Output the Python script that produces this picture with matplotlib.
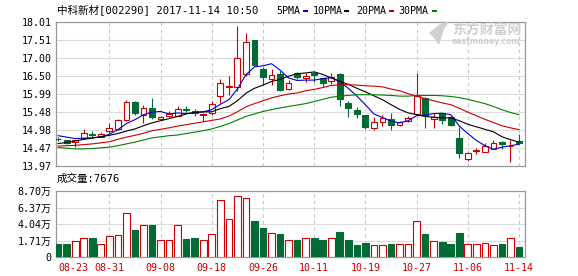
import numpy as np
import matplotlib
matplotlib.use("Agg")
import matplotlib.pyplot as plt
from matplotlib.patches import Rectangle, Polygon

plt.rcParams["font.family"] = ["DejaVu Sans Mono", "Noto Sans CJK SC"]
plt.rcParams["font.size"] = 7.2

UP = "#cc0000"
DOWN = "#006b35"
GRID = "#dcdcdc"
FRAME = "#9a9a9a"
MARK = "#d0d0d0"

W, H = 578, 276

dates = ["08-23", "08-24", "08-25", "08-28", "08-29", "08-30", "08-31",
         "09-01", "09-04", "09-05", "09-06", "09-07", "09-08", "09-11",
         "09-12", "09-13", "09-14", "09-15", "09-18", "09-19", "09-20",
         "09-21", "09-22", "09-25", "09-26", "09-27", "09-28", "09-29",
         "10-09", "10-10", "10-11", "10-12", "10-13", "10-16", "10-17",
         "10-18", "10-19", "10-20", "10-23", "10-24", "10-25", "10-26",
         "10-27", "10-30", "10-31", "11-01", "11-02", "11-03", "11-06",
         "11-07", "11-08", "11-09", "11-10", "11-13", "11-14"]

opens = [14.73, 14.69, 14.64, 14.75, 14.85, 14.79, 14.96, 15.01, 15.26, 15.76,
         15.40, 15.61, 15.28, 15.37, 15.38, 15.57, 15.52, 15.41, 15.46, 15.93,
         16.20, 16.19, 16.55, 17.51, 16.68, 16.41, 16.55, 16.12, 16.57, 16.43,
         16.59, 16.43, 16.36, 16.55, 15.73, 15.54, 15.40, 15.05, 15.21, 15.28,
         15.12, 15.23, 15.43, 15.87, 15.28, 15.45, 15.35, 14.75, 14.16, 14.39,
         14.37, 14.46, 14.65, 14.52, 14.66]
closes = [14.72, 14.61, 14.69, 14.89, 14.84, 14.87, 15.03, 15.25, 15.76, 15.45,
          15.61, 15.35, 15.35, 15.43, 15.56, 15.55, 15.45, 15.43, 15.72, 16.29,
          16.22, 16.99, 17.44, 16.80, 16.46, 16.52, 16.10, 16.31, 16.46, 16.50,
          16.52, 16.29, 16.48, 15.84, 15.61, 15.43, 15.07, 15.21, 15.31, 15.12,
          15.21, 15.33, 15.93, 15.40, 15.35, 15.26, 15.12, 14.33, 14.33, 14.41,
          14.53, 14.62, 14.59, 14.54, 14.62]
highs = [14.77, 14.71, 14.71, 15.00, 14.95, 14.92, 15.17, 15.28, 15.82, 15.78,
         15.68, 15.89, 15.38, 15.50, 15.65, 15.65, 15.58, 15.46, 15.78, 16.40,
         16.49, 17.90, 17.69, 17.51, 16.75, 16.70, 16.63, 16.38, 16.62, 16.58,
         16.62, 16.45, 16.57, 16.57, 15.78, 15.62, 15.40, 15.35, 15.40, 15.47,
         15.24, 15.38, 16.59, 15.90, 15.45, 15.47, 15.38, 15.07, 14.35, 14.47,
         14.62, 14.70, 14.66, 14.70, 14.86]
lows = [14.66, 14.58, 14.51, 14.72, 14.79, 14.77, 14.90, 14.97, 15.24, 15.40,
        15.17, 15.29, 15.25, 15.33, 15.36, 15.47, 15.38, 15.22, 15.40, 15.73,
        15.96, 16.08, 16.50, 16.78, 16.24, 16.25, 16.08, 16.10, 16.40, 16.33,
        16.33, 16.20, 16.27, 15.64, 15.35, 15.32, 15.02, 14.98, 15.10, 14.98,
        15.10, 15.20, 15.40, 15.04, 15.05, 15.15, 15.10, 14.19, 14.12, 14.30,
        14.35, 14.44, 14.45, 14.09, 14.60]

# volume, in 万 shares
volumes = [1.68, 1.68, 2.08, 2.57, 2.44, 1.77, 2.74, 2.96, 5.74, 3.54,
           4.20, 4.20, 2.30, 2.21, 4.20, 2.34, 2.44, 2.30, 2.97, 7.51,
           4.95, 8.04, 7.73, 4.73, 3.76, 3.10, 2.97, 2.21, 2.30, 2.57,
           2.57, 2.30, 2.44, 3.23, 2.21, 1.55, 1.90, 1.55, 1.64, 1.77,
           1.77, 1.77, 4.73, 2.97, 2.08, 1.99, 1.77, 3.10, 1.77, 1.68,
           1.86, 1.64, 1.77, 2.57, 1.32]

ma5 = [14.82, 14.78, 14.74, 14.75, 14.76, 14.79, 14.86, 14.99, 15.16, 15.27,
       15.41, 15.48, 15.50, 15.43, 15.46, 15.44, 15.47, 15.49, 15.55, 15.70,
       15.83, 16.13, 16.53, 16.75, 16.78, 16.84, 16.66, 16.44, 16.37, 16.38,
       16.38, 16.42, 16.45, 16.33, 16.15, 15.93, 15.69, 15.43, 15.33, 15.23,
       15.18, 15.24, 15.38, 15.40, 15.44, 15.45, 15.41, 15.09, 14.88, 14.69,
       14.54, 14.44, 14.50, 14.54, 14.58]
ma10 = [14.60, 14.63, 14.67, 14.72, 14.75, 14.79, 14.83, 14.88, 14.95, 15.01,
        15.10, 15.18, 15.24, 15.30, 15.36, 15.43, 15.47, 15.49, 15.49, 15.58,
        15.64, 15.80, 16.01, 16.15, 16.24, 16.34, 16.40, 16.49, 16.56, 16.58,
        16.61, 16.54, 16.44, 16.35, 16.26, 16.15, 16.05, 15.94, 15.83, 15.69,
        15.56, 15.46, 15.41, 15.36, 15.34, 15.32, 15.32, 15.24, 15.14, 15.07,
        15.00, 14.93, 14.79, 14.71, 14.64]
ma20 = [14.53, 14.54, 14.55, 14.57, 14.59, 14.62, 14.65, 14.72, 14.78, 14.83,
        14.89, 14.96, 15.00, 15.04, 15.09, 15.13, 15.17, 15.21, 15.25, 15.29,
        15.37, 15.49, 15.63, 15.72, 15.80, 15.88, 15.94, 15.99, 16.02, 16.08,
        16.12, 16.17, 16.23, 16.25, 16.25, 16.24, 16.22, 16.21, 16.19, 16.13,
        16.08, 16.00, 15.93, 15.86, 15.80, 15.74, 15.69, 15.59, 15.48, 15.38,
        15.28, 15.19, 15.10, 15.04, 14.99]
ma30 = [14.49, 14.47, 14.45, 14.45, 14.46, 14.48, 14.50, 14.54, 14.59, 14.64,
        14.70, 14.76, 14.79, 14.82, 14.84, 14.88, 14.92, 14.96, 15.01, 15.08,
        15.16, 15.26, 15.36, 15.43, 15.50, 15.55, 15.60, 15.64, 15.68, 15.72,
        15.78, 15.84, 15.90, 15.93, 15.95, 15.97, 15.97, 15.97, 15.96, 15.95,
        15.93, 15.93, 15.95, 15.95, 15.95, 15.94, 15.92, 15.89, 15.84, 15.78,
        15.72, 15.64, 15.55, 15.47, 15.41]

price_ticks = [13.97, 14.47, 14.98, 15.48, 15.99, 16.50, 17.00, 17.51, 18.01]
vol_tick_labels = ["0", "1.71万", "4.04万", "6.37万", "8.70万"]
vol_max = 8.70
last_volume = "7676"
title = "中科新材[002290] 2017-11-14 10:50"
ma_names = ["5PMA", "10PMA", "20PMA", "30PMA"]
ma_colors = ["#0000cc", "#000000", "#cc0000", "#008000"]


def px(x, y):
    return x / W, 1 - y / H


x = np.arange(len(dates))
o, c = np.array(opens), np.array(closes)
up = c >= o
edge = [UP if u else DOWN for u in up]
face = ["white" if u else DOWN for u in up]

fig = plt.figure(figsize=(W / 100, H / 100), dpi=100)
ax = fig.add_axes([56 / W, 1 - 166 / H, 469 / W, 144 / H])
axv = fig.add_axes([56 / W, 1 - 257 / H, 469 / W, 66 / H])

tick_idx = x[::6]
for a in (ax, axv):
    a.set_xlim(-0.25, len(dates) - 0.3)
    for t in tick_idx[1:]:
        a.axvline(t, color="#c8c8c8", lw=0.8, ls=(0, (3, 3)), zorder=0)
    for s in a.spines.values():
        s.set_color(FRAME)
        s.set_linewidth(0.9)
    a.tick_params(length=0, pad=3, labelsize=7.2)

# candles
ax.vlines(x, lows, highs, colors=edge, lw=0.8, zorder=2)
ax.bar(x, np.maximum(np.abs(c - o), 0.015), bottom=np.minimum(o, c), width=0.68,
       color=face, edgecolor=edge, linewidth=0.8, zorder=3)
for ma, col in zip([ma5, ma10, ma20, ma30], ma_colors):
    ax.plot(x, ma, color=col, lw=0.8, zorder=4)

ax.set_ylim(price_ticks[0], price_ticks[-1])
ax.set_yticks(price_ticks)
ax.set_yticklabels([f"{p:.2f}" for p in price_ticks])
ax.grid(axis="y", color=GRID, lw=0.8, zorder=0)
ax.set_xticks(tick_idx)
ax.tick_params(labelbottom=False)

# volume
axv.bar(x, volumes, width=0.78, color=face, edgecolor=edge, linewidth=0.8, zorder=3)
axv.set_ylim(0, vol_max)
vt = np.linspace(0, vol_max, len(vol_tick_labels))
axv.set_yticks(vt)
axv.set_yticklabels(vol_tick_labels)
axv.grid(axis="y", color=GRID, lw=0.8, zorder=0)
axv.set_xticks(tick_idx)
labels = axv.set_xticklabels([dates[i] for i in tick_idx], color=UP)
labels[0].set_horizontalalignment("left")
axv.tick_params(axis="x", pad=4)

# header texts
fig.text(*px(57, 10), title, fontsize=7.6, va="center", ha="left")
fig.text(*px(57, 179), f"成交量:{last_volume}", fontsize=7.6, va="center", ha="left")

leg_x = [276, 313, 356, 398]
mark_x = [303, 344, 389, 432]
for name, col, lx, mx in zip(ma_names, ma_colors, leg_x, mark_x):
    fig.text(*px(lx, 10.5), name, fontsize=7.2, va="center", ha="left")
    fig.patches.append(Rectangle(px(mx, 12), 5 / W, 2 / H, transform=fig.transFigure,
                                 facecolor=col, edgecolor="none"))

# watermark
swoosh = [px(429, 33), px(440, 24), px(450, 21), px(444, 29), px(439, 45), px(434, 38)]
fig.patches.append(Polygon(swoosh, closed=True, transform=fig.transFigure,
                           facecolor=MARK, edgecolor="none"))
fig.text(*px(452, 30), "东方财富网", fontsize=10, color=MARK, weight="bold",
         va="center", ha="left", family=["Noto Sans CJK SC"])
fig.text(*px(452, 42), "eastmoney.com", fontsize=5.6, color=MARK, weight="bold",
         va="center", ha="left", family=["DejaVu Sans"])

fig.savefig("out.png", dpi=100)
